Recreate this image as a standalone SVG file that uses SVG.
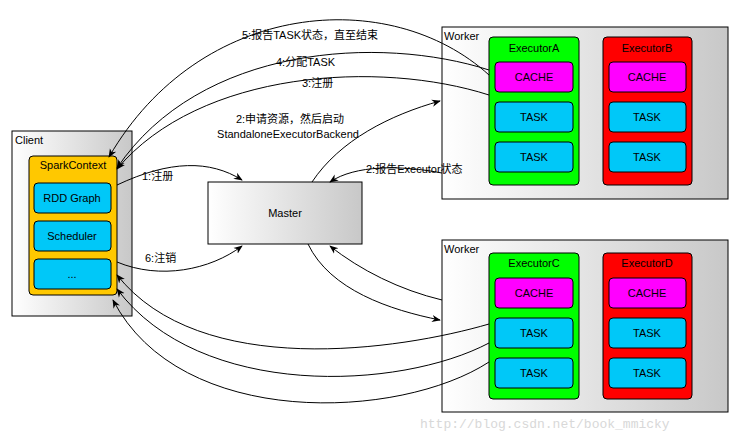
<svg xmlns="http://www.w3.org/2000/svg" width="750" height="438" viewBox="0 0 750 438">
<defs>
<linearGradient id="g" x1="0" x2="1" y1="0" y2="0"><stop offset="0" stop-color="#fff"/><stop offset="1" stop-color="#c8c8c8"/></linearGradient>
<marker id="ar" viewBox="0 0 10 10" refX="9" refY="5" markerWidth="9" markerHeight="9" orient="auto"><path d="M0,1 L10,5 L0,9 L3,5 z" fill="#000"/></marker>
<style>
text{font-family:"Liberation Sans","Noto Sans CJK SC",sans-serif;font-size:11px;fill:#000}
.c{text-anchor:middle}
.box{stroke:#000;stroke-width:1}
.cn{fill:none;stroke:#000;stroke-width:1;marker-end:url(#ar)}
</style>
</defs>
<g id="client"><rect x="12" y="131" width="120" height="185" fill="url(#g)" class="box"/><text x="15" y="144">Client</text></g>
<g id="sparkcontext"><rect x="29" y="156" width="88" height="139" rx="4" fill="#ffc800" class="box"/><text class="c" x="73" y="169">SparkContext</text>
<rect x="34" y="183" width="77" height="30" rx="4" fill="#00c8f8" class="box"/><text class="c" x="72" y="202">RDD Graph</text>
<rect x="34" y="221" width="77" height="30" rx="4" fill="#00c8f8" class="box"/><text class="c" x="72" y="240">Scheduler</text>
<rect x="34" y="259" width="77" height="30" rx="4" fill="#00c8f8" class="box"/><text class="c" x="72" y="278">...</text></g>
<g id="master"><rect x="208" y="182" width="154" height="62" fill="url(#g)" class="box"/><text class="c" x="285" y="217">Master</text></g>
<g id="worker1"><rect x="442" y="27" width="286" height="172" fill="url(#g)" class="box"/><text x="444" y="40">Worker</text>
<rect x="489" y="37" width="90" height="148" rx="4" fill="#00ff00" class="box"/><text class="c" x="534" y="52">ExecutorA</text>
<rect x="495" y="62" width="78" height="30" rx="4" fill="#ff00ff" class="box"/><text class="c" x="534" y="81">CACHE</text>
<rect x="495" y="102" width="78" height="30" rx="4" fill="#00c8f8" class="box"/><text class="c" x="534" y="121">TASK</text>
<rect x="495" y="142" width="78" height="30" rx="4" fill="#00c8f8" class="box"/><text class="c" x="534" y="161">TASK</text>
<rect x="603" y="37" width="89" height="148" rx="4" fill="#ff0000" class="box"/><text class="c" x="647" y="52">ExecutorB</text>
<rect x="609" y="62" width="77" height="30" rx="4" fill="#ff00ff" class="box"/><text class="c" x="647" y="81">CACHE</text>
<rect x="609" y="102" width="77" height="30" rx="4" fill="#00c8f8" class="box"/><text class="c" x="647" y="121">TASK</text>
<rect x="609" y="142" width="77" height="30" rx="4" fill="#00c8f8" class="box"/><text class="c" x="647" y="161">TASK</text></g>
<g id="worker2"><rect x="442" y="240" width="286" height="172" fill="url(#g)" class="box"/><text x="444" y="253">Worker</text>
<rect x="489" y="253" width="90" height="146" rx="4" fill="#00ff00" class="box"/><text class="c" x="534" y="267">ExecutorC</text>
<rect x="495" y="278" width="78" height="30" rx="4" fill="#ff00ff" class="box"/><text class="c" x="534" y="297">CACHE</text>
<rect x="495" y="318" width="78" height="30" rx="4" fill="#00c8f8" class="box"/><text class="c" x="534" y="337">TASK</text>
<rect x="495" y="358" width="78" height="30" rx="4" fill="#00c8f8" class="box"/><text class="c" x="534" y="377">TASK</text>
<rect x="603" y="253" width="89" height="146" rx="4" fill="#ff0000" class="box"/><text class="c" x="647" y="267">ExecutorD</text>
<rect x="609" y="278" width="77" height="30" rx="4" fill="#ff00ff" class="box"/><text class="c" x="647" y="297">CACHE</text>
<rect x="609" y="318" width="77" height="30" rx="4" fill="#00c8f8" class="box"/><text class="c" x="647" y="337">TASK</text>
<rect x="609" y="358" width="77" height="30" rx="4" fill="#00c8f8" class="box"/><text class="c" x="647" y="377">TASK</text></g>
<g id="connectors">
<path class="cn" d="M117,185 C170,160 210,160 242,180"/>
<path class="cn" d="M117,262 C160,280 210,270 242,246"/>
<path class="cn" d="M312,182 C340,140 390,115 440,101"/>
<path class="cn" d="M442,173 C400,165 355,165 330,182"/>
<path class="cn" d="M489,75 C390,-15 200,0 109,157"/>
<path class="cn" d="M489,70 C380,35 200,45 117,168"/>
<path class="cn" d="M489,95 C380,60 200,70 117,169"/>
<path class="cn" d="M308,244 C330,290 390,310 440,320"/>
<path class="cn" d="M442,300 C400,290 360,270 330,246"/>
<path class="cn" d="M489,324 C400,350 200,380 117,275"/>
<path class="cn" d="M489,343 C400,390 200,400 117,289"/>
<path class="cn" d="M489,362 C400,420 180,430 113,300"/>
</g>
<g id="labels">
<text x="242" y="39">5:报告TASK状态，直至结束</text>
<text x="276" y="66">4:分配TASK</text>
<text x="302" y="87">3:注册</text>
<text class="c" x="290" y="123">2:申请资源，然后启动</text>
<text class="c" x="288" y="138">StandaloneExecutorBackend</text>
<text x="366" y="173">2:报告Executor状态</text>
<text x="142" y="180">1:注册</text>
<text x="145" y="262">6:注销</text>
<text x="420" y="428" style="font-family:'Liberation Mono',monospace;font-size:13px;fill:#d8d8d8">http://blog.csdn.net/book_mmicky</text>
</g>
</svg>
